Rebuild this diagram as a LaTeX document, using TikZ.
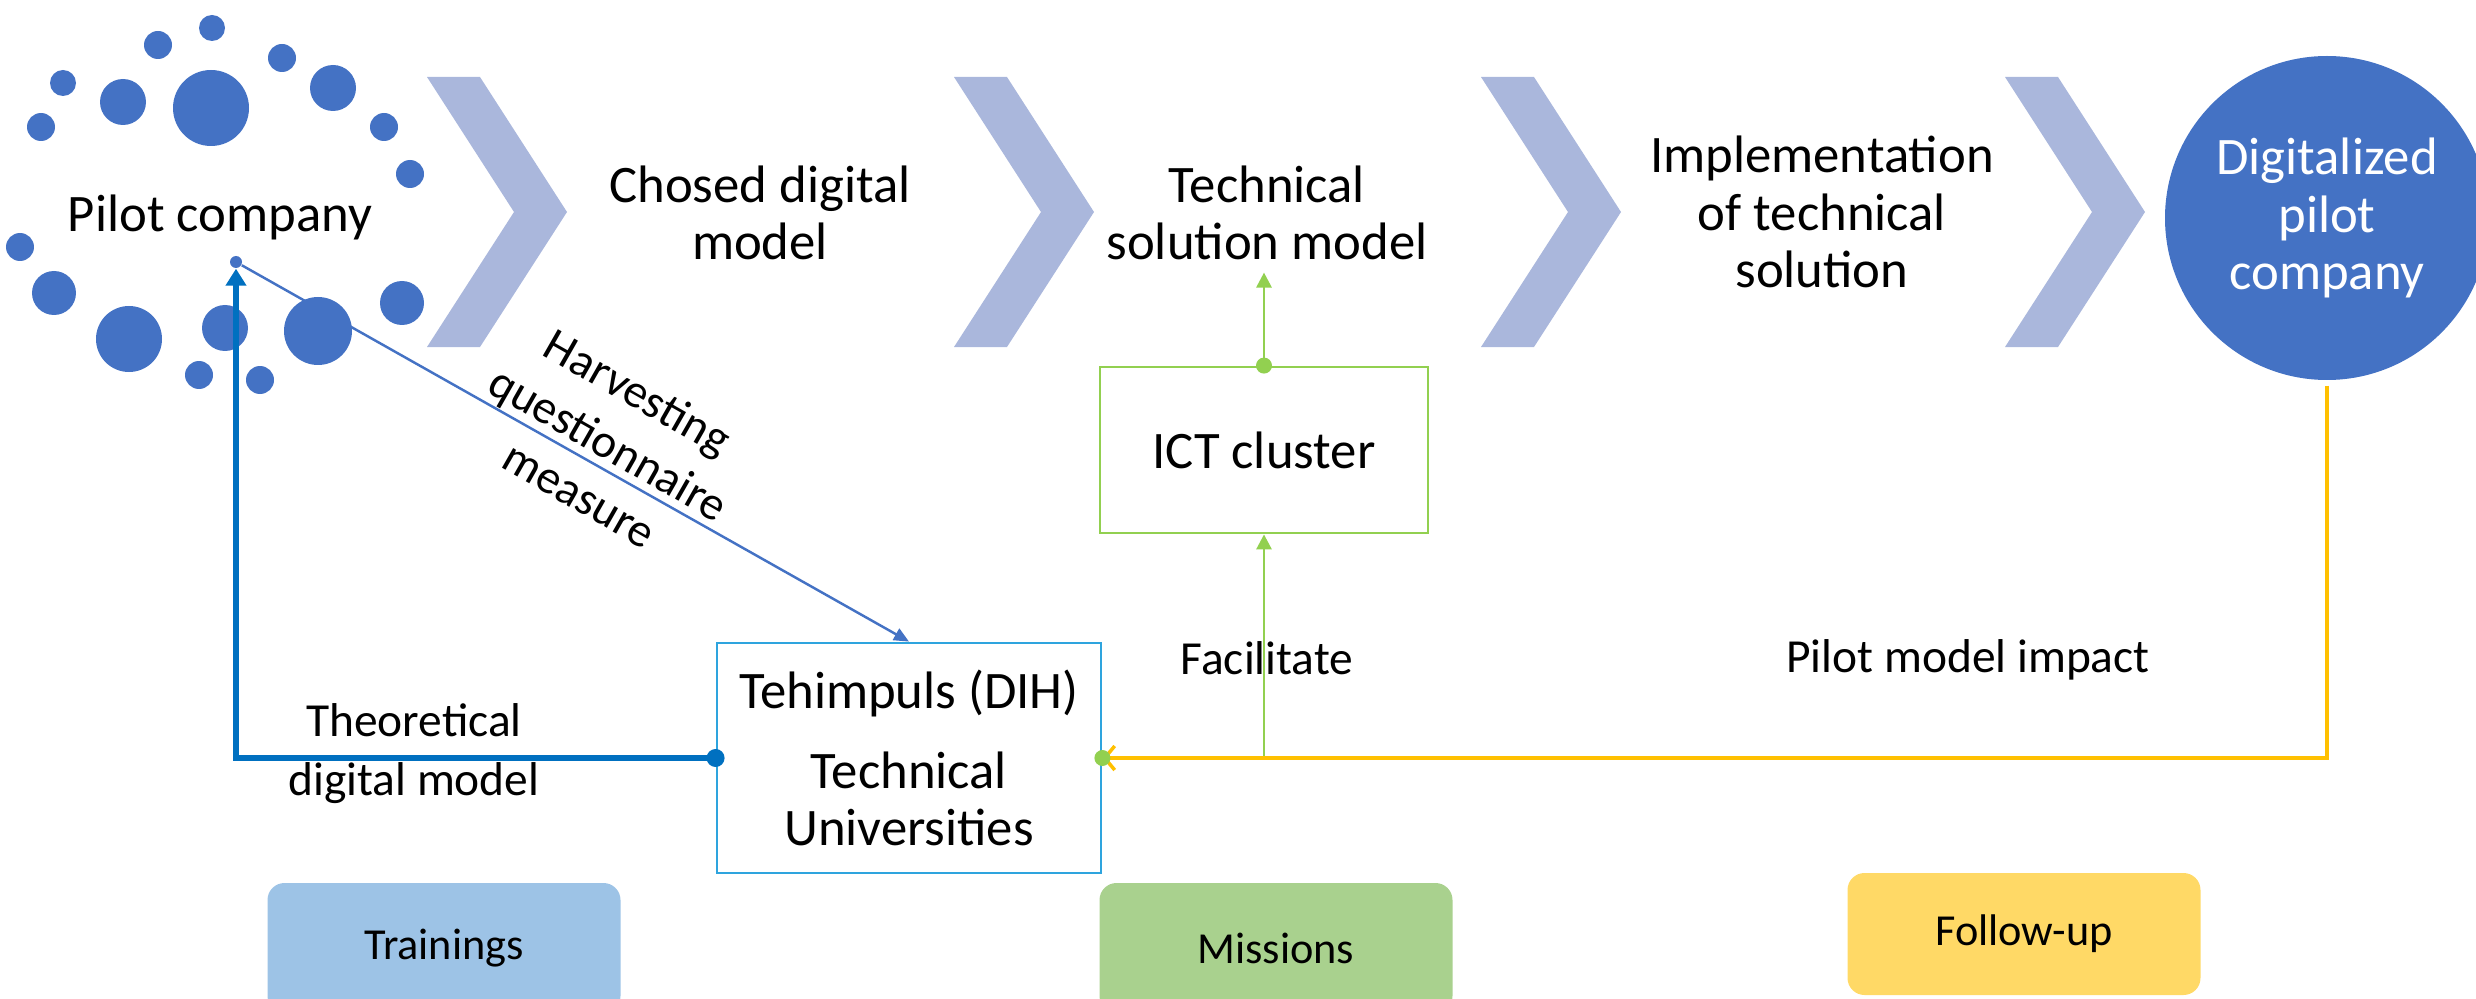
\documentclass[tikz,border=0pt]{standalone}
\usepackage{fontspec}
\setmainfont{Carlito}
\usetikzlibrary{arrows.meta}

\begin{document}
\begin{tikzpicture}[font=\fontsize{15}{16.3}\selectfont,
  stagetext/.style={align=center},
  linktext/.style={align=center, font=\fontsize{13.5}{16.8}\selectfont},
  bottombox/.style={rounded corners=0.17cm, minimum width=3.53cm,
    font=\fontsize{12.6}{14}\selectfont}]
  % Define colors
  \definecolor{dotblue}{RGB}{68,114,196}
  \definecolor{chevron}{RGB}{170,183,220}
  \definecolor{linkblue}{RGB}{0,112,192}
  \definecolor{dihblue}{RGB}{46,164,222}
  \definecolor{ictgreen}{RGB}{146,208,80}
  \definecolor{followyellow}{RGB}{255,192,0}
  \definecolor{trainfill}{RGB}{157,195,230}
  \definecolor{missfill}{RGB}{169,209,142}
  \definecolor{followfill}{RGB}{255,217,102}

  \useasboundingbox (0,0) rectangle (24.76,-9.99);

  % Chevrons between the stages
  \foreach \x in {4.27,9.54,14.81,20.05} {
    \fill[chevron] (\x,-0.77) -- ({\x+0.53},-0.77) -- ({\x+1.40},-2.12)
    -- ({\x+0.53},-3.47) -- (\x,-3.47) -- ({\x+0.87},-2.12) -- cycle;
  }

  % Dots around the pilot company
  \foreach \x/\y/\r in {2.12/0.28/0.13, 1.58/0.45/0.14, 2.82/0.58/0.14,
    0.63/0.83/0.13, 1.23/1.02/0.23, 2.11/1.08/0.38, 3.33/0.88/0.23,
    0.41/1.27/0.14, 3.84/1.27/0.14, 4.10/1.74/0.14, 0.20/2.47/0.14,
    0.54/2.93/0.22, 1.29/3.39/0.33, 2.25/3.28/0.23, 3.18/3.31/0.34,
    4.02/3.03/0.22, 1.99/3.75/0.14, 2.60/3.80/0.14} {
    \fill[dotblue] (\x,-\y) circle (\r);
  }

  % Stages
  \node (pilot) at (2.20,-2.17) {Pilot company};
  \node[circle, fill=dotblue, inner sep=0pt, minimum size=0.12cm]
  (pilotdot) at (2.36,-2.62) {};
  \node[stagetext] (chosen) at (7.60,-2.13) {Chosed digital\\model};
  \node[stagetext] (techsol) at (12.67,-2.13) {Technical\\solution model};
  \node[stagetext] (implem) at (18.22,-2.12)
  {Implementation\\of technical\\solution};
  \node[circle, fill=dotblue, text=white, align=center, inner sep=0pt,
  minimum size=3.24cm] (digital) at (23.27,-2.18) {Digitalized\\pilot\\company};

  % Boxes
  \node[draw=ictgreen, line width=0.8pt, minimum width=3.28cm,
  minimum height=1.66cm] (ict) at (12.64,-4.50) {ICT cluster};
  \node[draw=dihblue, line width=0.8pt, minimum width=3.84cm,
  minimum height=2.30cm, align=center] (dih) at (9.09,-7.58)
  {Tehimpuls (DIH)\\[0.23cm]Technical\\Universities};

  % Bottom boxes
  \node[bottombox, fill=trainfill, minimum height=1.30cm] (trainings)
  at (4.44,-9.48) {Trainings};
  \node[bottombox, fill=missfill, minimum height=1.30cm] (missions)
  at (12.76,-9.48) {Missions};
  \node[bottombox, fill=followfill, minimum height=1.22cm] (followup)
  at (20.24,-9.34) {Follow-up};

  % Connectors
  \draw[ictgreen, line width=0.8pt, -{Triangle[width=0.15cm, length=0.15cm]}]
  (dih.east) -- (dih.east -| ict.south) -- (ict.south);
  \draw[ictgreen, line width=0.8pt, -{Triangle[width=0.15cm, length=0.15cm]}]
  (ict.north) -- (ict.north |- techsol.south);
  \draw[followyellow, line width=1pt, shorten <=0.05cm,
  -{Straight Barb[length=0.1cm, width=0.24cm]}] (digital.south) |- (dih.east);
  \draw[linkblue, line width=1.7pt, -{Triangle[width=0.2cm, length=0.17cm]}]
  (dih.west) -| (pilotdot.south);
  \draw[dotblue, line width=0.7pt, -{Triangle[width=0.13cm, length=0.15cm]}]
  (pilotdot) -- (dih.north);
  \fill[linkblue] (dih.west) circle (0.09);
  \fill[ictgreen] (dih.east) circle (0.08);
  \fill[ictgreen] (ict.north) circle (0.08);

  % Connector texts
  \node[linktext, rotate=-29.7] (harvest) at (6.09,-4.43)
  {Harvesting\\questionnaire\\measure};
  \node[linktext] (theory) at (4.14,-7.54) {Theoretical\\digital model};
  \node[linktext] (facilitate) at (12.67,-6.58) {Facilitate};
  \node[linktext] (impact) at (19.68,-6.60) {Pilot model impact};
\end{tikzpicture}
\end{document}
